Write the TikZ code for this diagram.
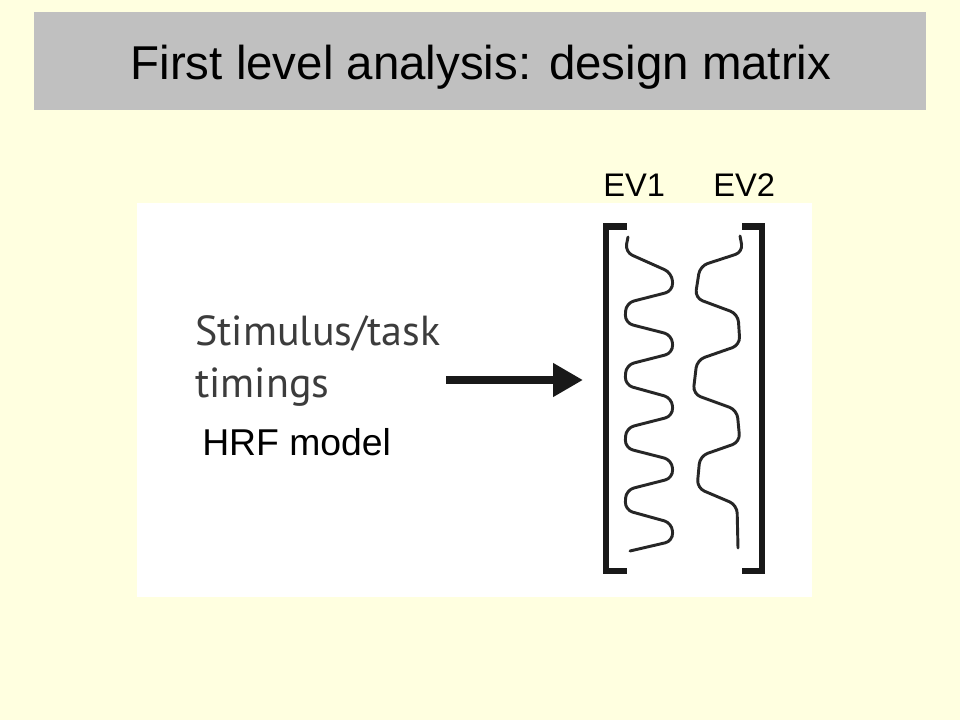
\documentclass[tikz,border=0pt]{standalone}
\usepackage{fontspec}
\setmainfont{Liberation Sans}
\newfontfamily\figfont{PT Sans}
\usetikzlibrary{arrows.meta}
\definecolor{slidebg}{RGB}{255,255,224}
\definecolor{titlebar}{RGB}{192,192,192}
\definecolor{figgray}{RGB}{60,60,60}
\tikzset{wave/.style={draw=black!85, line width=2.2pt, rounded corners=6pt, line cap=round},
  brack/.style={draw=black!90, line width=5.2pt, line join=miter},
  figtext/.style={anchor=base west, inner sep=0pt, text=figgray, font=\figfont\fontsize{31.5}{39}\selectfont},
  slidetext/.style={inner sep=0pt, font=\fontsize{24.5}{29}\selectfont}}

\begin{document}
\begin{tikzpicture}[x=0.75pt,y=-0.75pt]
   \useasboundingbox (0,0) rectangle (960,720);
   \fill[slidebg] (0,0) rectangle (960,720);
   \fill[titlebar] (34,12) rectangle (926,110);
   \node[anchor=base, inner sep=0pt, font=\fontsize{35.6}{43}\selectfont] (title) at (481,80)
    {First level analysis: design matrix};
   \fill[white] (137,203) rectangle (812,597);
   \node[figtext] (stim) at (195,345) {Stimulus/task};
   \node[figtext] (timing) at (195,397) {timings};
   \node[slidetext, anchor=base west, font=\fontsize{28}{34}\selectfont] (hrf) at (202,455) {HRF model};
   \node[slidetext, anchor=base west] (ev1) at (603,197) {EV1};
   \node[slidetext, anchor=base west] (ev2) at (713,197) {EV2};
   \coordinate (arrS) at (446,380);
   \coordinate (arrE) at (583,380);
   \draw[black!90, line width=6pt, -{Triangle[length=22.5pt, width=24pt]}] (arrS) -- (arrE);
   \draw[brack]
    (627,226.5) -- (606,226.5) -- (606,571) -- (627,571);
   \draw[brack]
    (742,226.5) -- (762,226.5) -- (762,571) -- (742,571);
   \draw[wave]
    (628,237) -- (625,252) -- (672,273) -- (673,291) -- (626,303) -- (625,323)
    -- (672,335) -- (673,353) -- (626,365) -- (625,385) -- (672,398) -- (673,416)
    -- (626,428) -- (625,448) -- (672,460) -- (673,478) -- (626,490) -- (625,510)
    -- (672,523) -- (673,541) -- (630,551);
   \draw[wave]
    (740,236) -- (743,252) -- (700,266) -- (695,298) -- (738,314) -- (740,345)
    -- (697,360) -- (693,394) -- (737,410) -- (740,442) -- (700,456) -- (697,488)
    -- (737,505) -- (738,548);
  \end{tikzpicture}
\end{document}
